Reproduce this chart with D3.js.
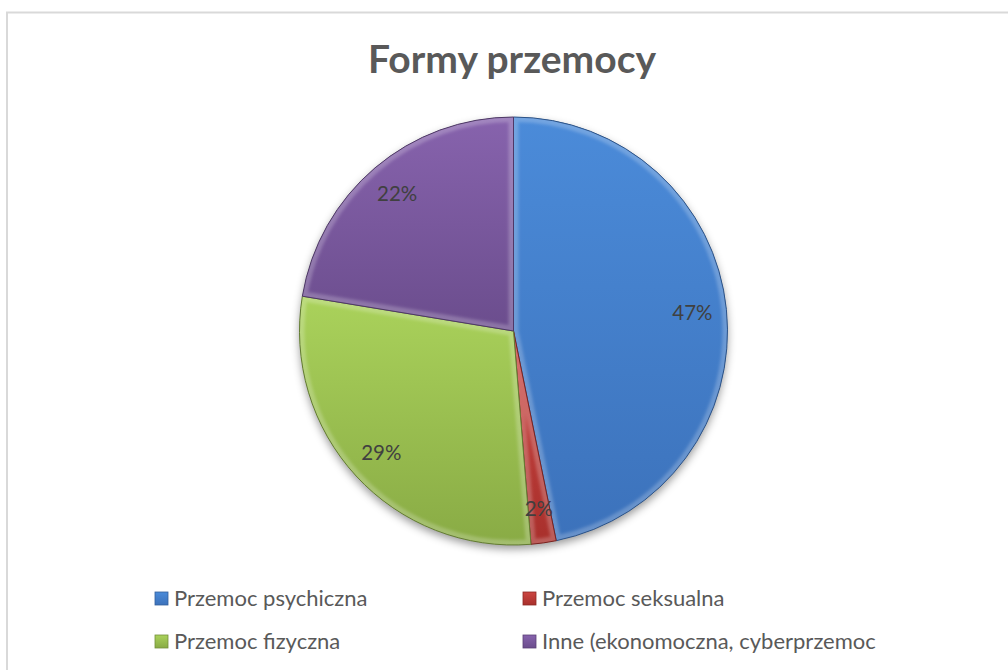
<!DOCTYPE html>
<html>
<head>
<meta charset="utf-8">
<title>Formy przemocy</title>
<script src="https://cdn.jsdelivr.net/npm/d3@7"></script>
<style>
  body { margin: 0; background: #fff; }
  svg { display: block; }
</style>
</head>
<body>
<script>
// dane wykresu
var categories = ['Przemoc psychiczna', 'Przemoc seksualna', 'Przemoc fizyczna', 'Inne (ekonomoczna, cyberprzemoc'];
var values = [46.8, 1.9, 28.9, 22.4];
var labels = ['47%', '2%', '29%', '22%'];
var colorsTop = ['#4b8bd9', '#cc4541', '#aad25b', '#8763ad'];
var colorsBottom = ['#3c72bb', '#a8302c', '#89ab45', '#6b4d8d'];

var width = 1008, height = 670;
var cx = 513.5, cy = 331, radius = 214;

var svg = d3.select('body').append('svg')
  .attr('width', width)
  .attr('height', height);

var defs = svg.append('defs');

// ramka obszaru wykresu
svg.append('rect')
  .attr('x', 7).attr('y', 12.5)
  .attr('width', 1010).attr('height', 680)
  .attr('fill', '#fff')
  .attr('stroke', '#d9d9d9')
  .attr('stroke-width', 2);

// tytuł
svg.append('text')
  .attr('x', 512).attr('y', 73)
  .attr('text-anchor', 'middle')
  .attr('font-family', 'Lato, "Open Sans", sans-serif')
  .attr('font-weight', 'bold')
  .attr('font-size', 39)
  .attr('fill', '#595959')
  .text('Formy przemocy');

// gradienty
var color = d3.scaleOrdinal().domain(categories).range(d3.range(categories.length));
categories.forEach(function(c, i) {
  var g = defs.append('linearGradient')
    .attr('id', 'grad' + i)
    .attr('x1', 0).attr('y1', 0).attr('x2', 0).attr('y2', 1);
  g.append('stop').attr('offset', '0%').attr('stop-color', colorsTop[i]);
  g.append('stop').attr('offset', '100%').attr('stop-color', colorsBottom[i]);
});

var shadow = defs.append('filter').attr('id', 'shadow')
  .attr('x', '-20%').attr('y', '-20%').attr('width', '140%').attr('height', '140%');
shadow.append('feDropShadow')
  .attr('dx', 0).attr('dy', 4).attr('stdDeviation', 4)
  .attr('flood-color', '#000').attr('flood-opacity', 0.4);

var blur = defs.append('filter').attr('id', 'blur');
blur.append('feGaussianBlur').attr('stdDeviation', 1.5);

var pie = d3.pie().sort(null).value(function(d) { return d; });
var arcs = pie(values);

var arc = d3.arc().innerRadius(0).outerRadius(radius);
var labelArc = d3.arc().innerRadius(radius * 0.84).outerRadius(radius * 0.84);

var g = svg.append('g').attr('transform', 'translate(' + cx + ',' + cy + ')');

// cień pod kołem
g.append('g').attr('filter', 'url(#shadow)')
  .selectAll('path')
  .data(arcs)
  .enter()
  .append('path')
  .attr('d', arc)
  .attr('fill', '#888');

// wycinki
arcs.forEach(function(d, i) {
  defs.append('clipPath').attr('id', 'clip' + i)
    .append('path').attr('d', arc(d));
});

var slices = g.selectAll('g.slice')
  .data(arcs)
  .enter()
  .append('g')
  .attr('class', 'slice');

slices.append('path')
  .attr('d', arc)
  .attr('fill', function(d, i) { return 'url(#grad' + color(categories[i]) + ')'; });

// efekt fazowania
slices.append('path')
  .attr('d', arc)
  .attr('clip-path', function(d, i) { return 'url(#clip' + i + ')'; })
  .attr('fill', 'none')
  .attr('stroke', '#fff')
  .attr('stroke-opacity', 0.22)
  .attr('stroke-width', 10)
  .attr('filter', 'url(#blur)');

slices.append('path')
  .attr('d', arc)
  .attr('fill', 'none')
  .attr('stroke', function(d, i) { return d3.color(colorsBottom[i]).darker(0.9); })
  .attr('stroke-width', 1);

// etykiety danych
g.selectAll('text.lbl')
  .data(arcs)
  .enter()
  .append('text')
  .attr('class', 'lbl')
  .attr('transform', function(d) { return 'translate(' + labelArc.centroid(d) + ')'; })
  .attr('text-anchor', 'middle')
  .attr('dy', '0.35em')
  .attr('font-family', 'Lato, "Open Sans", sans-serif')
  .attr('font-size', 20.5)
  .attr('fill', '#404040')
  .text(function(d, i) { return labels[i]; });

// legenda
var legendX = [155, 523];
var legendY = [598, 641];
var legend = svg.selectAll('g.legend')
  .data(categories)
  .enter()
  .append('g')
  .attr('class', 'legend')
  .attr('transform', function(d, i) {
    return 'translate(' + legendX[i % 2] + ',' + legendY[Math.floor(i / 2)] + ')';
  });

legend.append('rect')
  .attr('x', 0).attr('y', -6)
  .attr('width', 13).attr('height', 13)
  .attr('fill', function(d, i) { return 'url(#grad' + i + ')'; })
  .attr('stroke', function(d, i) { return d3.color(colorsBottom[i]).darker(0.5); })
  .attr('stroke-width', 0.8);

legend.append('text')
  .attr('x', 19).attr('y', 0)
  .attr('dy', '0.35em')
  .attr('font-family', 'Lato, "Open Sans", sans-serif')
  .attr('font-size', 22)
  .attr('fill', '#595959')
  .text(function(d) { return d; });
</script>
</body>
</html>
